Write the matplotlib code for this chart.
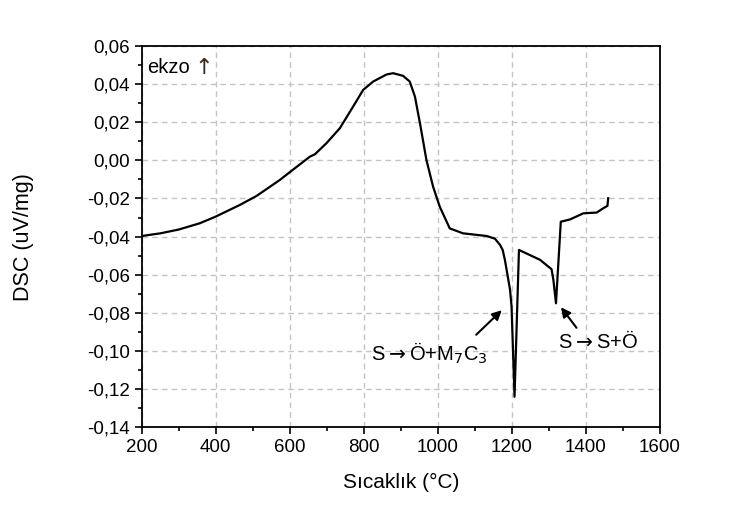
import matplotlib
matplotlib.use("Agg")
import matplotlib.pyplot as plt
from matplotlib.ticker import MultipleLocator, FuncFormatter

plt.rcParams["font.family"] = ["Liberation Sans", "DejaVu Sans"]
plt.rcParams["mathtext.fontset"] = "dejavusans"

# DSC curve
temperature = [200, 250, 300, 357, 400, 465, 510, 573, 600, 654, 668, 699, 735, 771,
               798, 825, 861, 879, 906, 924, 938, 952, 969, 987, 1005, 1032, 1068,
               1132, 1154, 1168, 1175, 1181, 1195, 1199, 1207, 1219, 1276, 1307,
               1312, 1319, 1332, 1357, 1393, 1429, 1447, 1458, 1460]
dsc = [-0.0397, -0.0383, -0.0363, -0.0330, -0.0295, -0.0234, -0.0187, -0.0103,
       -0.0062, 0.0019, 0.0032, 0.0090, 0.0168, 0.0282, 0.0369, 0.0413, 0.0450,
       0.0457, 0.0443, 0.0413, 0.0334, 0.0190, 0.0002, -0.0138, -0.0243, -0.0357,
       -0.0383, -0.0397, -0.0411, -0.0444, -0.0470, -0.0522, -0.0680, -0.0767,
       -0.1240, -0.0470, -0.0522, -0.0571, -0.0627, -0.0750, -0.0322, -0.0310,
       -0.0278, -0.0274, -0.0251, -0.0239, -0.0199]

fig = plt.figure(figsize=(7.5, 5.16), dpi=100)
ax = fig.add_axes([0.189, 0.172, 0.691, 0.739])

ax.plot(temperature, dsc, color="black", linewidth=1.6)

ax.set_xlim(200, 1600)
ax.set_ylim(-0.14, 0.06)
ax.xaxis.set_major_locator(MultipleLocator(200))
ax.xaxis.set_minor_locator(MultipleLocator(100))
ax.yaxis.set_major_locator(MultipleLocator(0.02))
ax.yaxis.set_minor_locator(MultipleLocator(0.01))
ax.yaxis.set_major_formatter(FuncFormatter(lambda v, p: f"{v:.2f}".replace(".", ",").replace("-0,00", "0,00")))

ax.tick_params(which="major", direction="out", length=5, width=1.2, labelsize=13.5)
ax.tick_params(which="minor", direction="out", length=3, width=1.2)
for s in ax.spines.values():
    s.set_linewidth(1.3)

ax.grid(which="major", color="#c4c4c4", linestyle=(0, (4, 3)), linewidth=1)
ax.set_axisbelow(True)

ax.set_xlabel("Sıcaklık (°C)", fontsize=15, labelpad=12)
ax.set_ylabel("DSC (uV/mg)", fontsize=15.5, labelpad=38)

ax.text(215, 0.0485, "ekzo", fontsize=14.5, va="center", ha="left")
ax.text(343, 0.0485, "↑", fontsize=16, va="center", ha="left",
        color="#3a2a20", family="DejaVu Sans")

ax.annotate("", xy=(1178, -0.0776), xytext=(1098, -0.0925),
            arrowprops=dict(arrowstyle="-|>", color="black", lw=1.5, mutation_scale=14))
ax.text(818, -0.1015, r"S${\rightarrow}$Ö+M$_7$C$_3$", fontsize=14.5, va="center", ha="left")

ax.annotate("", xy=(1328, -0.0759), xytext=(1379, -0.089),
            arrowprops=dict(arrowstyle="-|>", color="black", lw=1.5, mutation_scale=14))
ax.text(1325, -0.0947, r"S${\rightarrow}$S+Ö", fontsize=14.5, va="center", ha="left")

fig.savefig("out.png", dpi=100)
